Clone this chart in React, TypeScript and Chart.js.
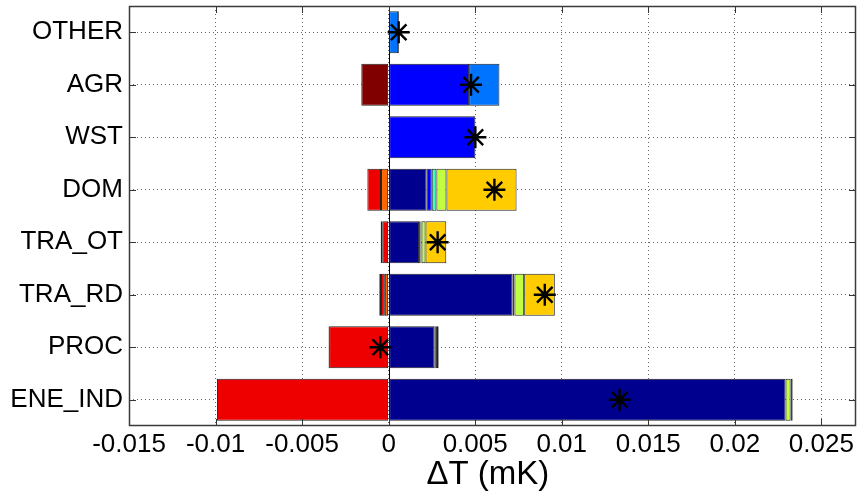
import React, { useEffect, useRef } from 'react';
import { Chart, registerables } from 'chart.js';

Chart.register(...registerables);

// ---------- data ----------
const categories = ['OTHER', 'AGR', 'WST', 'DOM', 'TRA_OT', 'TRA_RD', 'PROC', 'ENE_IND'];

const seriesNames = ['S1', 'S2', 'S3', 'S4', 'S5', 'S6', 'S7', 'S8', 'S9'];
const seriesColors = ['#00008F', '#0000FF', '#0074FF', '#3FFFBF', '#BFFF3F', '#FFCC00', '#FF6600', '#EE0000', '#800000'];

const darkBlueVals = [null, null, null, 0.00218, 0.00176, 0.00715, 0.00264, 0.02293];
const blueVals = [null, 0.00465, 0.00501, 0.00031, 0.00008, null, null, null];
const lightBlueVals = [0.00055, 0.00175, null, null, null, null, 0.00005, null];
const cyanVals = [0.00005, null, null, 0.00027, 0.00006, 0.00012, null, null];
const greenYellowVals = [null, null, null, 0.00058, 0.00023, 0.00056, 0.0001, 0.00029];
const yellowVals = [null, null, null, 0.00405, 0.0012, 0.00177, 0.0001, 0.00012];
const orangeVals = [null, null, null, -0.00044, null, -0.00022, null, null];
const redVals = [null, null, null, -0.00079, -0.00037, -0.00022, -0.00344, -0.00992];
const darkRedVals = [null, -0.00158, null, null, -0.00009, -0.0001, -0.00003, null];

const netTotals = [0.00058, 0.00476, 0.00501, 0.00611, 0.00283, 0.00902, -0.00048, 0.01335];

const xTickValues = [-0.015, -0.01, -0.005, 0, 0.005, 0.01, 0.015, 0.02, 0.025];
const xTickLabels = ['-0.015', '-0.01', '-0.005', '0', '0.005', '0.01', '0.015', '0.02', '0.025'];
const xMin = -0.015;
const xMax = 0.027;
const xTitle = 'ΔT (mK) ';

const allSeries = [darkBlueVals, blueVals, lightBlueVals, cyanVals, greenYellowVals, yellowVals, orangeVals, redVals, darkRedVals];

const FONT = "'Liberation Sans', Arial, Helvetica, sans-serif";

const framePlugin = {
  id: 'frame',
  beforeDatasetsDraw(chart: any) {
    const { ctx, chartArea: a, scales } = chart;
    const x0 = Math.round(scales.x.getPixelForValue(0)) + 0.5;
    ctx.save();
    ctx.strokeStyle = '#000';
    ctx.lineWidth = 1;
    ctx.beginPath();
    ctx.moveTo(x0, a.top);
    ctx.lineTo(x0, a.bottom);
    ctx.stroke();
    ctx.restore();
  },
  afterDraw(chart: any) {
    const { ctx, chartArea: a, scales } = chart;
    const L = 7;
    ctx.save();
    ctx.strokeStyle = '#333';
    ctx.lineWidth = 1;
    ctx.beginPath();
    scales.x.ticks.forEach((_t: any, i: number) => {
      const px = Math.round(scales.x.getPixelForTick(i)) + 0.5;
      ctx.moveTo(px, a.top);
      ctx.lineTo(px, a.top + L);
      ctx.moveTo(px, a.bottom);
      ctx.lineTo(px, a.bottom - L);
    });
    scales.y.ticks.forEach((_t: any, i: number) => {
      const py = Math.round(scales.y.getPixelForTick(i)) + 0.5;
      ctx.moveTo(a.left, py);
      ctx.lineTo(a.left + L, py);
      ctx.moveTo(a.right, py);
      ctx.lineTo(a.right - L, py);
    });
    ctx.stroke();
    ctx.strokeStyle = '#3a3a3a';
    ctx.lineWidth = 1.5;
    ctx.strokeRect(Math.round(a.left) + 0.5, Math.round(a.top) + 0.5, Math.round(a.right - a.left) - 1, Math.round(a.bottom - a.top) - 1);
    ctx.restore();
  },
};

export default function App() {
  const ref = useRef<HTMLCanvasElement | null>(null);

  useEffect(() => {
    if (!ref.current) return;
    const barSets: any[] = allSeries.map((vals, i) => ({
      type: 'bar',
      label: seriesNames[i],
      data: vals,
      backgroundColor: seriesColors[i],
      borderColor: '#222',
      borderWidth: 1,
      borderSkipped: false,
      barPercentage: 0.8,
      categoryPercentage: 1,
      inflateAmount: 0,
      order: 1,
    }));
    const starSet: any = {
      type: 'line',
      label: 'net',
      data: netTotals,
      indexAxis: 'y',
      showLine: false,
      pointStyle: 'star',
      pointRadius: 11,
      pointBorderWidth: 2.4,
      pointBorderColor: '#000',
      pointBackgroundColor: '#000',
      stack: 'net',
      order: 0,
      clip: false,
      xAxisID: 'x',
      yAxisID: 'y',
    };
    const chart = new Chart(ref.current, {
      type: 'bar',
      data: { labels: categories, datasets: [starSet, ...barSets] },
      options: {
        indexAxis: 'y',
        responsive: false,
        animation: false,
        devicePixelRatio: 1,
        layout: { autoPadding: false, padding: { top: 6, right: 1, bottom: 0, left: 0 } },
        plugins: { legend: { display: false }, tooltip: { enabled: false } },
        scales: {
          x: {
            type: 'linear',
            stacked: true,
            min: xMin,
            max: xMax,
            ticks: {
              stepSize: 0.005,
              includeBounds: false,
              autoSkip: false,
              maxRotation: 0,
              padding: 3,
              color: '#000',
              font: { family: FONT, size: 26 },
              callback: (v: any) => {
                const i = xTickValues.findIndex((t) => Math.abs(t - Number(v)) < 1e-9);
                return i >= 0 ? xTickLabels[i] : '';
              },
            },
            grid: { color: '#666', lineWidth: 1, drawTicks: false },
            border: { display: false, dash: [1, 3] },
            title: {
              display: true,
              text: xTitle,
              color: '#000',
              font: { family: FONT, size: 33, lineHeight: 1.1 },
              padding: { top: 0, bottom: 0 },
            },
            afterFit: (s: any) => {
              s.height = 67;
              s.paddingLeft = 0;
              s.paddingRight = 0;
            },
          },
          y: {
            type: 'category',
            stacked: true,
            offset: true,
            ticks: {
              padding: 6,
              color: '#000',
              font: { family: FONT, size: 26 },
              autoSkip: false,
            },
            grid: { color: '#666', lineWidth: 1, drawTicks: false, offset: false },
            border: { display: false, dash: [1, 3] },
            afterFit: (s: any) => {
              s.width = 129;
              s.paddingTop = 0;
              s.paddingBottom = 0;
            },
          },
        },
      } as any,
      plugins: [framePlugin],
    });
    return () => chart.destroy();
  }, []);

  return (
    <div style={{ position: 'fixed', left: 0, top: 0, width: 857, height: 493, background: '#fff' }}>
      <canvas ref={ref} width={857} height={493} style={{ display: 'block' }} />
    </div>
  );
}
